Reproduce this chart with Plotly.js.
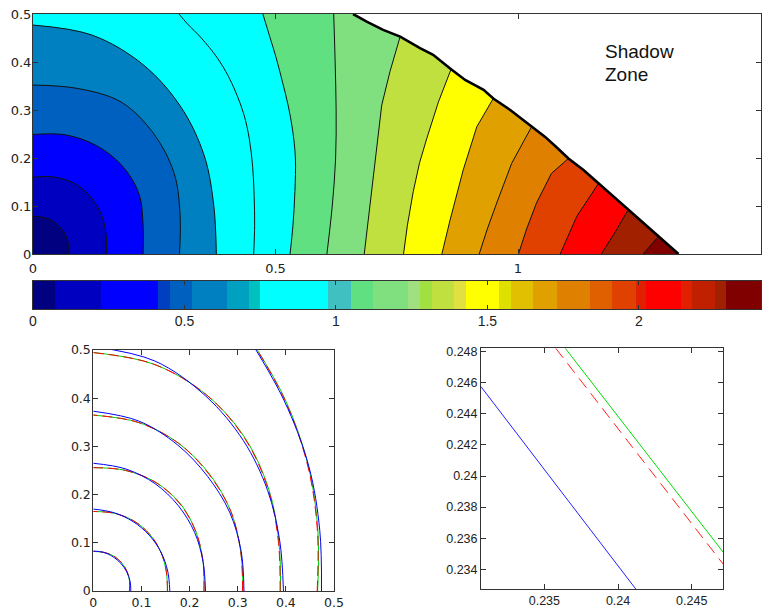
<!DOCTYPE html>
<html>
<head>
<meta charset="utf-8">
<script src="https://cdn.plot.ly/plotly-3.0.1.min.js"></script>
<style>html,body{margin:0;padding:0;background:#fff;}#chart{width:769px;height:615px;}</style>
</head>
<body>
<div id="chart"></div>
<script>
// ---------- DATA ----------
// angles (deg) at which radii of the near-circular fronts were read
const ANG = [0, 15, 30, 45, 60, 75, 90];

// top panel: near-circular contour fronts (radius at each angle)
const level1R = [0.074, 0.076, 0.078, 0.079, 0.080, 0.079, 0.078];
const level2R = [0.151, 0.156, 0.163, 0.168, 0.170, 0.166, 0.160];
const level3R = [0.227, 0.235, 0.252, 0.260, 0.261, 0.257, 0.249];
const level4R = [0.302, 0.314, 0.336, 0.353, 0.365, 0.357, 0.352];
const level5R = [0.378, 0.386, 0.408, 0.432, 0.455, 0.472, 0.477];

// top panel: outer contour lines (x, y points from y=0 upward)
const level6X = [0.455, 0.457, 0.456, 0.453, 0.446, 0.435, 0.421, 0.403, 0.379, 0.347, 0.318, 0.301];
const level6Y = [0.000, 0.060, 0.120, 0.180, 0.240, 0.290, 0.330, 0.370, 0.410, 0.450, 0.480, 0.500];
const level7X = [0.530, 0.536, 0.540, 0.541, 0.535, 0.526, 0.514, 0.501, 0.489, 0.474];
const level7Y = [0.000, 0.060, 0.130, 0.200, 0.260, 0.310, 0.360, 0.410, 0.450, 0.500];
const level8X = [0.606, 0.617, 0.624, 0.625, 0.623, 0.620];
const level8Y = [0.000, 0.100, 0.200, 0.300, 0.400, 0.500];
const level9X = [0.683, 0.692, 0.702, 0.711, 0.719, 0.736, 0.757];
const level9Y = [0.000, 0.080, 0.171, 0.250, 0.310, 0.380, 0.453];
const level10X = [0.764, 0.772, 0.784, 0.797, 0.812, 0.836, 0.862];
const level10Y = [0.000, 0.060, 0.130, 0.190, 0.241, 0.317, 0.385];
const level11X = [0.843, 0.860, 0.887, 0.915, 0.949];
const level11Y = [0.000, 0.071, 0.175, 0.265, 0.324];
const level12X = [0.920, 0.936, 0.956, 0.987, 1.028];
const level12Y = [0.000, 0.050, 0.106, 0.189, 0.265];
const level13X = [1.001, 1.017, 1.038, 1.069, 1.104];
const level13Y = [0.000, 0.050, 0.106, 0.168, 0.199];
const level14X = [1.087, 1.100, 1.121, 1.166];
const level14Y = [0.000, 0.030, 0.078, 0.147];
const level15X = [1.172, 1.203, 1.227];
const level15Y = [0.000, 0.050, 0.092];
const level16X = [1.258, 1.289];
const level16Y = [0.000, 0.036];

// shadow-zone boundary
const boundaryX = [0.660, 0.688, 0.722, 0.757, 0.798, 0.825, 0.862, 0.891, 0.929, 0.949, 0.984, 1.028, 1.056, 1.080, 1.104, 1.135, 1.166, 1.193, 1.227, 1.258, 1.289, 1.331];
const boundaryY = [0.500, 0.484, 0.467, 0.453, 0.429, 0.415, 0.385, 0.3625, 0.342, 0.324, 0.300, 0.265, 0.244, 0.222, 0.199, 0.175, 0.147, 0.123, 0.092, 0.064, 0.036, 0.000];

// band colours, innermost (band 1) to outermost (band 17)
const bandColors = ['#000080', '#0000C0', '#0000FF', '#0060C0', '#0080C0', '#00FFFF', '#00FFFF',
  '#60E080', '#80E080', '#C0E040', '#FFFF00', '#E0A000', '#E08000', '#E04000', '#FF0000', '#A02000', '#800000'];

// colour bar segments
const cbEdges = [0, 0.073, 0.224, 0.413, 0.452, 0.526, 0.641, 0.713, 0.749, 0.975, 1.050, 1.123, 1.238, 1.277, 1.316,
  1.390, 1.428, 1.538, 1.578, 1.651, 1.728, 1.838, 1.912, 1.989, 2.025, 2.139, 2.176, 2.251, 2.289, 2.403];
const cbColors = ['#000080', '#0000C0', '#0000FF', '#0040C0', '#0060C0', '#0080C0', '#00A0C0', '#00C0C0', '#00FFFF',
  '#40C0C0', '#60E080', '#80E080', '#A0E080', '#A0E040', '#C0E040', '#E0E040', '#FFFF00', '#E0E000', '#E0C000',
  '#E0A000', '#E08000', '#E06000', '#E04000', '#E02000', '#FF0000', '#E02000', '#C02000', '#A02000', '#800000'];
const cbTicks = [0, 0.5, 1, 1.5, 2];

// bottom-left: fronts from three methods (radius at each angle)
const redR = [
  [0.075, 0.078, 0.081, 0.083, 0.084, 0.083, 0.082],
  [0.154, 0.157, 0.162, 0.166, 0.168, 0.167, 0.165],
  [0.230, 0.236, 0.246, 0.255, 0.260, 0.259, 0.256],
  [0.310, 0.317, 0.330, 0.341, 0.354, 0.362, 0.365],
  [0.388, 0.398, 0.420, 0.446, 0.470, 0.487, 0.4945],
  [0.465, 0.482, 0.515, 0.562, 0.627]
];
const greenR = [
  [0.075, 0.078, 0.081, 0.083, 0.084, 0.083, 0.082],
  [0.154, 0.157, 0.162, 0.166, 0.168, 0.167, 0.165],
  [0.230, 0.236, 0.246, 0.256, 0.260, 0.259, 0.256],
  [0.311, 0.317, 0.330, 0.342, 0.354, 0.362, 0.365],
  [0.389, 0.399, 0.421, 0.447, 0.470, 0.487, 0.495],
  [0.466, 0.483, 0.516, 0.563, 0.627]
];
const blueR = [
  [0.078, 0.079, 0.080, 0.081, 0.082, 0.083, 0.083],
  [0.159, 0.160, 0.162, 0.164, 0.166, 0.168, 0.170],
  [0.233, 0.236, 0.243, 0.250, 0.257, 0.262, 0.265],
  [0.313, 0.318, 0.327, 0.336, 0.350, 0.365, 0.373],
  [0.395, 0.401, 0.418, 0.441, 0.467, 0.494, 0.507],
  [0.474, 0.487, 0.517, 0.560, 0.625]
];

// bottom-right: zoom on one front near 45 degrees
const zoomBlueX = [0.2307, 0.2412];
const zoomBlueY = [0.24575, 0.23273];
const zoomRedX = [0.23577, 0.24714];
const zoomRedY = [0.24822, 0.23432];
const zoomGreenX = [0.23642, 0.24714];
const zoomGreenY = [0.24822, 0.23509];
const zoomXTicks = [0.235, 0.24, 0.245];
const zoomXLabels = ['0.235', '0.24', '0.245'];
const zoomYTicks = [0.234, 0.236, 0.238, 0.24, 0.242, 0.244, 0.246, 0.248];
const zoomYLabels = ['0.234', '0.236', '0.238', '0.24', '0.242', '0.244', '0.246', '0.248'];

// ---------- BUILD ----------
function polar(r) {
  return {
    x: r.map((v, i) => v * Math.cos(ANG[i] * Math.PI / 180)),
    y: r.map((v, i) => v * Math.sin(ANG[i] * Math.PI / 180))
  };
}
const traces = [];
const LINE = '#111';

// outermost band: everything left of the boundary
traces.push({x: boundaryX, y: boundaryY, xaxis: 'x', yaxis: 'y', mode: 'none',
  fill: 'tozerox', fillcolor: bandColors[16], hoverinfo: 'skip'});

const outer = [
  [level16X, level16Y], [level15X, level15Y], [level14X, level14Y], [level13X, level13Y],
  [level12X, level12Y], [level11X, level11Y], [level10X, level10Y], [level9X, level9Y]
];
outer.forEach((c, j) => {
  const k = 16 - j; // level number
  const xs = c[0].concat([c[0][c[0].length - 1]]);
  const ys = c[1].concat([0.5]);
  traces.push({x: xs, y: ys, xaxis: 'x', yaxis: 'y', mode: 'lines',
    line: {color: LINE, width: 1}, fill: 'tozerox', fillcolor: bandColors[k - 1], hoverinfo: 'skip'});
});
[[level8X, level8Y, 8], [level7X, level7Y, 7], [level6X, level6Y, 6]].forEach(c => {
  traces.push({x: c[0], y: c[1], xaxis: 'x', yaxis: 'y', mode: 'lines',
    line: {color: LINE, width: 1, shape: 'spline'}, fill: 'tozerox', fillcolor: bandColors[c[2] - 1], hoverinfo: 'skip'});
});
[level5R, level4R, level3R, level2R, level1R].forEach((r, j) => {
  const k = 5 - j;
  const p = polar(r);
  traces.push({x: p.x, y: p.y, xaxis: 'x', yaxis: 'y', mode: 'lines',
    line: {color: LINE, width: 1, shape: 'spline'}, fill: 'tozeroy', fillcolor: bandColors[k - 1], hoverinfo: 'skip'});
});
// shadow zone (white) and its boundary
traces.push({x: boundaryX.concat([1.7, 1.7, boundaryX[0]]), y: boundaryY.concat([0, 0.7, 0.7]),
  xaxis: 'x', yaxis: 'y', mode: 'none', fill: 'toself', fillcolor: '#ffffff', hoverinfo: 'skip'});
traces.push({x: boundaryX, y: boundaryY, xaxis: 'x', yaxis: 'y', mode: 'lines',
  line: {color: '#000', width: 2.6}, hoverinfo: 'skip'});

// colour bar
traces.push({type: 'bar', orientation: 'h', xaxis: 'x2', yaxis: 'y2',
  base: cbEdges.slice(0, -1), x: cbColors.map((c, i) => cbEdges[i + 1] - cbEdges[i]),
  y: cbColors.map(() => 0), width: cbColors.map(() => 1),
  marker: {color: cbColors, line: {width: 0}}, hoverinfo: 'skip'});

// bottom-left fronts
[[greenR, '#00CC00', 'solid'], [redR, '#FF0000', '10px,5px'], [blueR, '#0000FF', 'solid']].forEach(set => {
  set[0].forEach(r => {
    const p = polar(r);
    traces.push({x: p.x, y: p.y, xaxis: 'x3', yaxis: 'y3', mode: 'lines',
      line: {color: set[1], width: 1, dash: set[2], shape: 'spline'}, hoverinfo: 'skip'});
  });
});

// bottom-right zoom
traces.push({x: zoomGreenX, y: zoomGreenY, xaxis: 'x4', yaxis: 'y4', mode: 'lines', line: {color: '#00DD00', width: 1}});
traces.push({x: zoomRedX, y: zoomRedY, xaxis: 'x4', yaxis: 'y4', mode: 'lines', line: {color: '#FF2020', width: 1, dash: '12px,7px'}});
traces.push({x: zoomBlueX, y: zoomBlueY, xaxis: 'x4', yaxis: 'y4', mode: 'lines', line: {color: '#2020FF', width: 1}});

const W = 769, H = 615;
function dx(a, b) { return [a / W, b / W]; }
function dy(top, bottom) { return [1 - bottom / H, 1 - top / H]; }
const WIDE = 'DejaVu Sans, Verdana, sans-serif';
const ax = {showline: true, linecolor: '#333', linewidth: 1, mirror: 'ticks', ticks: 'inside', ticklen: 5,
  tickcolor: '#333', showgrid: false, zeroline: false, fixedrange: true,
  tickfont: {family: WIDE, size: 12.5, color: '#222'}};

const layout = {
  width: W, height: H, margin: {l: 0, r: 0, t: 0, b: 0}, showlegend: false,
  paper_bgcolor: '#fff', plot_bgcolor: '#fff', bargap: 0,
  font: {family: 'Liberation Sans, Arial, sans-serif', size: 12, color: '#222'},
  xaxis: Object.assign({}, ax, {domain: dx(33, 760.5), range: [0, 1.5], tickvals: [0, 0.5, 1, 1.5], anchor: 'y',
    ticklabelstandoff: 2, tickfont: {family: WIDE, size: 13, color: '#222'}}),
  yaxis: Object.assign({}, ax, {domain: dy(14, 254), range: [0, 0.5], dtick: 0.1, anchor: 'x',
    ticklabelstandoff: -2, tickfont: {family: WIDE, size: 13, color: '#222'}}),
  xaxis2: Object.assign({}, ax, {domain: dx(33, 761), range: [0, 2.403], tickvals: cbTicks, anchor: 'y2', ticklen: 4,
    ticklabelstandoff: -1,
    tickfont: {family: 'Liberation Sans Narrow, Arial Narrow, Liberation Sans, sans-serif', size: 14, color: '#222'}}),
  yaxis2: Object.assign({}, ax, {domain: dy(281, 309), range: [-0.5, 0.5], ticks: '', showticklabels: false, mirror: true, anchor: 'x2'}),
  xaxis3: Object.assign({}, ax, {domain: dx(93.3, 334), range: [0, 0.5], dtick: 0.1, anchor: 'y3'}),
  yaxis3: Object.assign({}, ax, {domain: dy(350, 591), range: [0, 0.5], dtick: 0.1, anchor: 'x3', ticklabelstandoff: -1}),
  xaxis4: Object.assign({}, ax, {domain: dx(481, 723.3), range: [0.2307, 0.24714], tickvals: zoomXTicks, ticktext: zoomXLabels, anchor: 'y4',
    tickfont: {family: 'Liberation Sans, Arial, sans-serif', size: 12.5, color: '#222'}}),
  yaxis4: Object.assign({}, ax, {domain: dy(348.3, 589), range: [0.23273, 0.24822], tickvals: zoomYTicks, ticktext: zoomYLabels, anchor: 'x4',
    tickfont: {family: 'Liberation Sans, Arial, sans-serif', size: 12.5, color: '#222'}}),
  annotations: [
    {text: 'Shadow', x: 1.175, y: 0.421, xref: 'x', yref: 'y', xanchor: 'left', yanchor: 'middle', showarrow: false,
      font: {family: 'Liberation Sans, Arial, sans-serif', size: 19, color: '#111'}},
    {text: 'Zone', x: 1.175, y: 0.373, xref: 'x', yref: 'y', xanchor: 'left', yanchor: 'middle', showarrow: false,
      font: {family: 'Liberation Sans, Arial, sans-serif', size: 19, color: '#111'}}
  ]
};

Plotly.newPlot('chart', traces, layout, {staticPlot: true, displayModeBar: false});
</script>
</body>
</html>
